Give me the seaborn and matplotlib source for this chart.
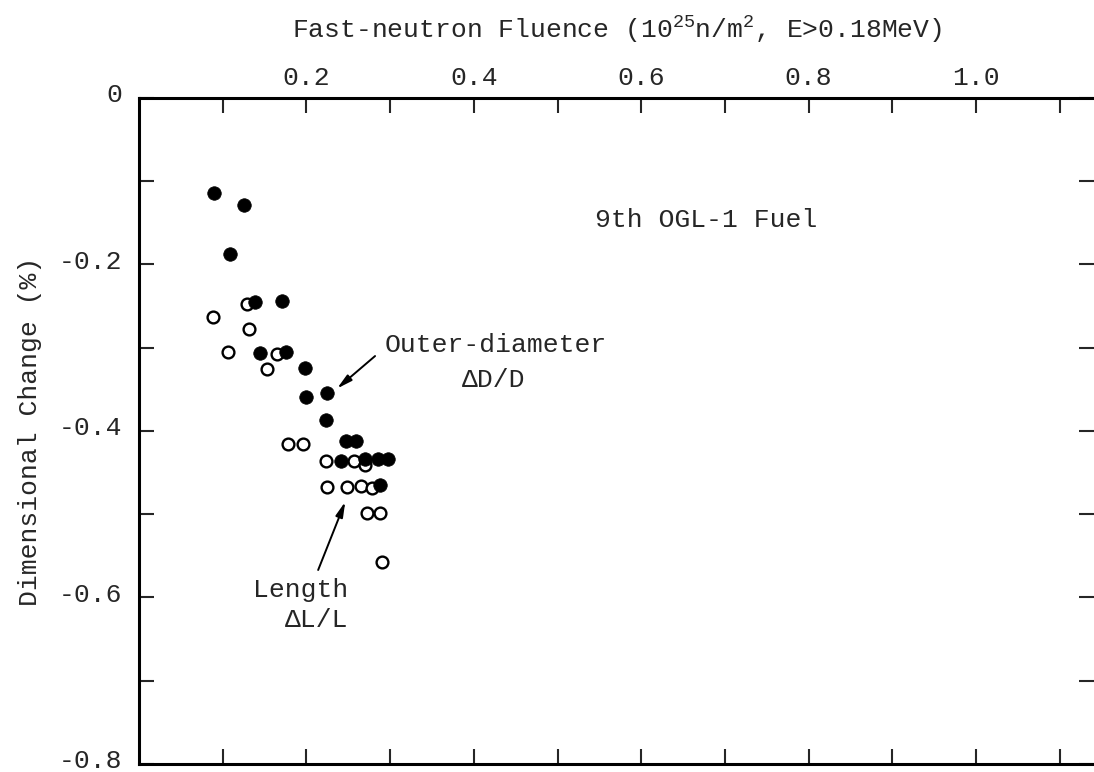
import numpy as np
import pandas as pd
import matplotlib
matplotlib.use("Agg")
import matplotlib.pyplot as plt
import matplotlib.transforms as mtransforms
import seaborn as sns

# Outer-diameter change (filled circles)
od_fluence = [0.090, 0.125, 0.109, 0.138, 0.171, 0.145, 0.175, 0.198, 0.200,
              0.224, 0.223, 0.247, 0.259, 0.241, 0.270, 0.285, 0.297, 0.288]
od_change = [-0.114, -0.129, -0.188, -0.245, -0.244, -0.306, -0.305, -0.324, -0.359,
             -0.354, -0.387, -0.412, -0.412, -0.436, -0.434, -0.434, -0.434, -0.465]

# Length change (open circles)
len_fluence = [0.129, 0.088, 0.131, 0.106, 0.165, 0.153, 0.178, 0.196, 0.223,
               0.257, 0.270, 0.225, 0.249, 0.265, 0.278, 0.272, 0.288, 0.290]
len_change = [-0.248, -0.263, -0.277, -0.305, -0.308, -0.325, -0.416, -0.416, -0.436,
              -0.436, -0.441, -0.467, -0.467, -0.466, -0.469, -0.499, -0.499, -0.557]

x_ticks = [0.1, 0.2, 0.3, 0.4, 0.5, 0.6, 0.7, 0.8, 0.9, 1.0, 1.1]
x_tick_labels = ["", "0.2", "", "0.4", "", "0.6", "", "0.8", "", "1.0", ""]
y_ticks = [0.0, -0.1, -0.2, -0.3, -0.4, -0.5, -0.6, -0.7, -0.8]
y_tick_labels = ["0", "", "-0.2", "", "-0.4", "", "-0.6", "", "-0.8"]

sns.set_style("ticks")
plt.rcParams["font.family"] = ["Liberation Mono", "DejaVu Sans Mono"]
plt.rcParams["mathtext.fontset"] = "custom"
plt.rcParams["mathtext.rm"] = "Liberation Mono"
plt.rcParams["mathtext.it"] = "Liberation Mono"
plt.rcParams["mathtext.default"] = "regular"

fig = plt.figure(figsize=(10.94, 7.72), dpi=100)
ax = fig.add_axes([0.1271, 0.0104, 0.8729, 0.8627])

df_len = pd.DataFrame({"fluence": len_fluence, "change": len_change})
df_od = pd.DataFrame({"fluence": od_fluence, "change": od_change})

sns.scatterplot(data=df_len, x="fluence", y="change", ax=ax, marker="o",
                s=72, facecolor="white", edgecolor="black", linewidth=1.7, zorder=3)
sns.scatterplot(data=df_od, x="fluence", y="change", ax=ax, marker="o",
                s=95, color="black", edgecolor="black", linewidth=0.5, zorder=4)

ax.set_xlim(0, 1.141)
ax.set_ylim(-0.8, 0)

ax.set_xticks(x_ticks)
ax.set_xticklabels(x_tick_labels)
ax.set_yticks(y_ticks)
ax.set_yticklabels(y_tick_labels)

ax.xaxis.set_label_position("top")
ax.tick_params(axis="x", which="both", top=True, bottom=True, labeltop=True,
               labelbottom=False, direction="in", length=11, width=1.5,
               labelsize=19, pad=6)
ax.tick_params(axis="y", which="both", left=True, right=True, direction="in",
               length=11, width=1.5, labelsize=19, pad=12)

# y tick labels sit a few pixels above their ticks
lift = mtransforms.ScaledTranslation(0, 5 / 100, fig.dpi_scale_trans)
for lbl in ax.get_yticklabels():
    lbl.set_transform(lbl.get_transform() + lift)

for side in ["left", "top", "bottom"]:
    ax.spines[side].set_linewidth(2.2)
    ax.spines[side].set_color("black")
ax.spines["right"].set_visible(False)

ax.set_xlabel("Fast-neutron Fluence (10$^{25}$n/m$^2$, E>0.18MeV)", fontsize=19,
              labelpad=20)
ax.set_ylabel("Dimensional Change (%)", fontsize=19, labelpad=12)

ax.text(0.545, -0.147, "9th OGL-1 Fuel", fontsize=19, va="center", ha="left")
ax.text(0.294, -0.297, "Outer-diameter", fontsize=19, va="center", ha="left")
ax.text(0.386, -0.339, "ΔD/D", fontsize=19, va="center", ha="left")
ax.text(0.136, -0.591, "Length", fontsize=19, va="center", ha="left")
ax.text(0.174, -0.627, "ΔL/L", fontsize=19, va="center", ha="left")

arrow = dict(arrowstyle="-|>,head_length=0.9,head_width=0.22", color="black",
             lw=1.4, shrinkA=0, shrinkB=0)
ax.annotate("", xy=(0.2366, -0.349), xytext=(0.282, -0.310), arrowprops=arrow)
ax.annotate("", xy=(0.2464, -0.485), xytext=(0.214, -0.567), arrowprops=arrow)

fig.savefig("out.png", dpi=100)
